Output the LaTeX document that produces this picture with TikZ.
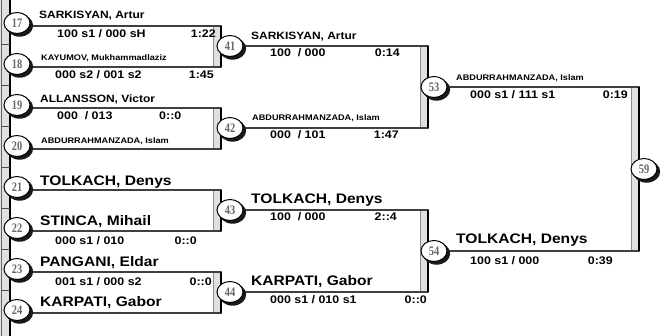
\documentclass[tikz,border=0pt]{standalone}
\usepackage{fontspec}
\setmainfont{Liberation Sans}[FakeStretch=1.13]
\newfontfamily\numfont{Liberation Serif}[FakeStretch=0.8]
\usetikzlibrary{shapes.geometric,backgrounds}
\newcommand\bracketbox[7]{%
  \coordinate (#1tl) at (#2,#4); \coordinate (#1bl) at (#2,#5);
  \coordinate (#1tr) at (#3,#4); \coordinate (#1br) at (#3,#5);
  \fill[band] (#1tl) rectangle (#1br);
  \draw[inner] (#1tl) -- (#1bl);
  \draw[hline] (#6.center |- #1tr) -- (#1tr);
  \draw[hline] (#7.center |- #1br) -- (#1br);
  \draw[outer] (#1tr) -- (#1br);
}
\begin{document}
\begin{tikzpicture}[x=1pt,y=-1pt,
  seed/.style={ellipse, draw=black, line width=1pt, fill=white, minimum width=26pt, minimum height=21pt, inner sep=0pt,
    font=\numfont\bfseries\fontsize{13}{13}\selectfont, text=black!60},
  big/.style={anchor=west, inner sep=0pt, font=\bfseries\fontsize{13.8}{14}\selectfont},
  med/.style={anchor=west, inner sep=0pt, font=\bfseries\fontsize{10.6}{11}\selectfont},
  sml/.style={anchor=west, inner sep=0pt, font=\bfseries\fontsize{8.1}{9}\selectfont},
  sc/.style={anchor=west, inner sep=0pt, font=\bfseries\fontsize{11}{12}\selectfont},
  scr/.style={anchor=east, inner sep=0pt, font=\bfseries\fontsize{11}{12}\selectfont},
  hline/.style={draw=black!75, line width=1.2pt},
  inner/.style={draw=black!45, line width=0.8pt},
  outer/.style={draw=black, line width=1.6pt, line cap=round},
  band/.style={fill=black!12},
  shade/.style={fill=black!90},
]
\useasboundingbox (0,0) rectangle (661,336);

% seed circles
\node[seed] (s17) at (17,23) {17};
\node[seed] (s18) at (17,64) {18};
\node[seed] (s19) at (17,105) {19};
\node[seed] (s20) at (17,146) {20};
\node[seed] (s21) at (17,187) {21};
\node[seed] (s22) at (17,228) {22};
\node[seed] (s23) at (17,269) {23};
\node[seed] (s24) at (17,310) {24};
% round circles
\node[seed] (c41) at (230,46) {41};
\node[seed] (c42) at (230,128) {42};
\node[seed] (c43) at (230,210) {43};
\node[seed] (c44) at (230,292) {44};
\node[seed] (c53) at (434,87) {53};
\node[seed] (c54) at (434,251) {54};
\node[seed] (c59) at (644,169) {59};

\begin{scope}[on background layer]
  % left frame
  \fill[band] (0,0) rectangle (10,336);
  \draw[black!60, line width=0.8pt] (1,0) -- (1,336);
  \draw[black, line width=1.2pt] (10,0) -- (10,336);
  \foreach \yy in {44,85,126,167,208,249,290}
    \draw[black!70, line width=0.8pt] (1,\yy) -- (10,\yy);
  % brackets
  \bracketbox{m41}{213}{221}{26}{67}{s17}{s18}
  \bracketbox{m42}{213}{221}{108}{149}{s19}{s20}
  \bracketbox{m43}{213}{221}{190}{231}{s21}{s22}
  \bracketbox{m44}{213}{221}{272}{313}{s23}{s24}
  \bracketbox{m53}{420}{428}{46}{128}{c41}{c42}
  \bracketbox{m54}{420}{428}{210}{292}{c43}{c44}
  \bracketbox{m59}{631}{639}{87}{251}{c53}{c54}
  % circle shadows
  \foreach \n in {s17,s18,s19,s20,s21,s22,s23,s24,c41,c42,c43,c44,c53,c54,c59}
    \fill[shade] ([shift={(2.6,2.6)}]\n.center) ellipse [x radius=13.6pt, y radius=11.1pt];
\end{scope}

% round 1 texts
\node[med] (n17) at (39,16) {SARKISYAN, Artur};
\node[sc] (p17) at (57,34) {100 s1 / 000 sH};
\node[scr] (t17) at (216,34) {1:22};
\node[sml] (n18) at (41,58) {KAYUMOV, Mukhammadlaziz};
\node[sc] (p18) at (55,75) {000 s2 / 001 s2};
\node[scr] (t18) at (214,75) {1:45};
\node[med] (n19) at (40,99) {ALLANSSON, Victor};
\node[sc] (p19) at (57,116) {000\ \ / 013};
\node[sc] (t19) at (159,116) {0::0};
\node[sml] (n20) at (41,141) {ABDURRAHMANZADA, Islam};
\node[big] (n21) at (40,182) {TOLKACH, Denys};
\node[big] (n22) at (40,222) {STINCA, Mihail};
\node[sc] (p22) at (55,241) {000 s1 / 010};
\node[scr] (t22) at (197,241) {0::0};
\node[big] (n23) at (40,263) {PANGANI, Eldar};
\node[sc] (p23) at (55,282) {001 s1 / 000 s2};
\node[scr] (t23) at (212,282) {0::0};
\node[big] (n24) at (40,303) {KARPATI, Gabor};

% round 2 texts
\node[med] (n41) at (251,37) {SARKISYAN, Artur};
\node[sc] (p41) at (270,53) {100\ \ / 000};
\node[scr] (t41) at (400,53) {0:14};
\node[sml] (n42) at (252,118) {ABDURRAHMANZADA, Islam};
\node[sc] (p42) at (270,135) {000\ \ / 101};
\node[scr] (t42) at (399,135) {1:47};
\node[big] (n43) at (251,200) {TOLKACH, Denys};
\node[sc] (p43) at (270,217) {100\ \ / 000};
\node[scr] (t43) at (397,217) {2::4};
\node[big] (n44) at (251,282) {KARPATI, Gabor};
\node[sc] (p44) at (270,300) {000 s1 / 010 s1};
\node[scr] (t44) at (427,300) {0::0};

% round 3 texts
\node[sml] (n53) at (456,78) {ABDURRAHMANZADA, Islam};
\node[sc] (p53) at (470,95) {000 s1 / 111 s1};
\node[scr] (t53) at (628,95) {0:19};
\node[big] (n54) at (456,240) {TOLKACH, Denys};
\node[sc] (p54) at (470,261) {100 s1 / 000};
\node[scr] (t54) at (613,261) {0:39};
\end{tikzpicture}
\end{document}
